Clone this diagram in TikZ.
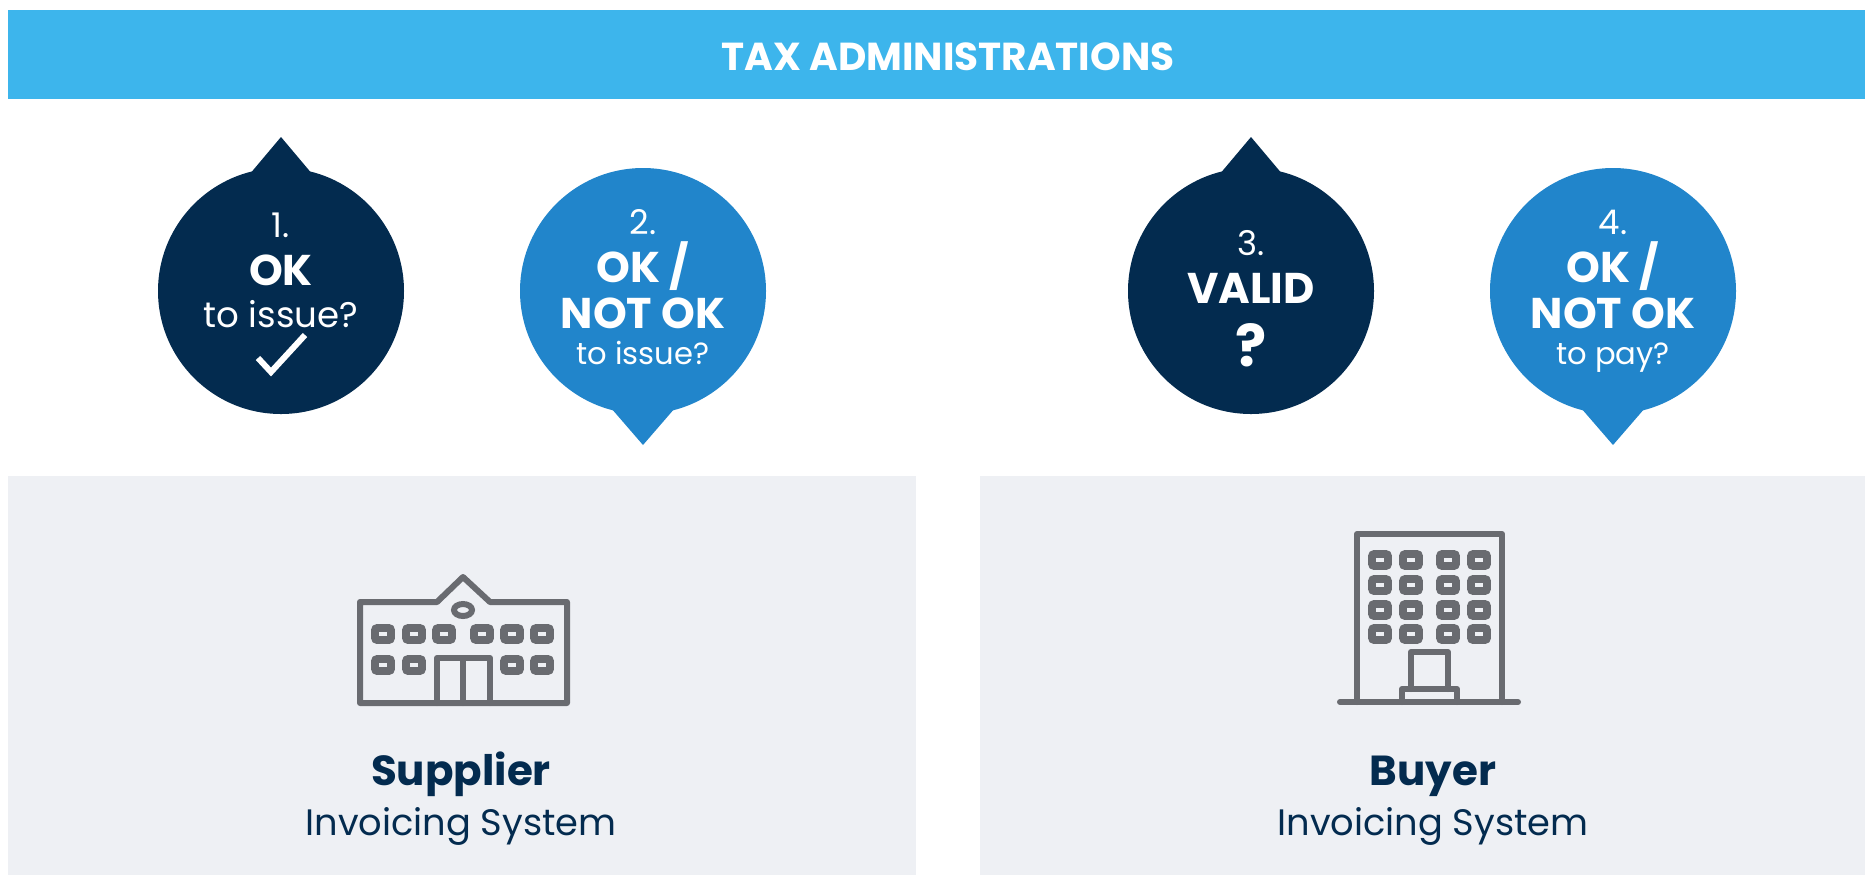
\documentclass[tikz,border=0pt]{standalone}
\usepackage{fontspec}
\setmainfont{Poppins}
\definecolor{banner}{HTML}{3DB5EC}
\definecolor{navy}{HTML}{032B4F}
\definecolor{midblue}{HTML}{2185CB}
\definecolor{panel}{HTML}{EEF0F4}
\definecolor{icon}{HTML}{696B70}
\begin{document}
\begin{tikzpicture}[x=0.5pt,y=-0.5pt,
    numtxt/.style={text=white,anchor=base,inner sep=0pt,font=\fontsize{17}{20}\selectfont},
    bigtxt/.style={text=white,anchor=base,inner sep=0pt,font=\fontsize{21.5}{26}\selectfont\bfseries},
    midtxt/.style={text=white,anchor=base,inner sep=0pt,font=\fontsize{17.8}{22}\selectfont},
    lowtxt/.style={text=white,anchor=base,inner sep=0pt,font=\fontsize{15.3}{19}\selectfont},
    nametxt/.style={text=navy,anchor=base,inner sep=0pt,font=\fontsize{21}{26}\selectfont\bfseries},
    systxt/.style={text=navy,anchor=base,inner sep=0pt,font=\fontsize{18.4}{22}\selectfont},
    iconline/.style={draw=icon,line width=3pt,line join=round,line cap=round},
    iconwin/.style={draw=icon,line width=3.8pt,rounded corners=1pt}]
    \useasboundingbox (0,0) rectangle (1865,875);
    % banner
    \fill[banner] (8,10) rectangle (1865,99);
    \node[inner sep=0pt,text=white,anchor=base] (tax) at (948,70) {\fontsize{19.5}{24}\selectfont\bfseries TAX ADMINISTRATIONS};
    % panels
    \fill[panel] (8,476) rectangle (916,875);
    \fill[panel] (980,476) rectangle (1865,875);
    % bubbles
    \coordinate (A) at (281,291);
    \coordinate (B) at (643,291);
    \coordinate (C) at (1251,291);
    \coordinate (D) at (1613,291);
    \fill[navy] (A) circle (123);
    \fill[navy] (249,175) -- (281,137) -- (313,175) -- cycle;
    \fill[midblue] (B) circle (123);
    \fill[midblue] (611,408) -- (643,445) -- (675,408) -- cycle;
    \fill[navy] (C) circle (123);
    \fill[navy] (1219,175) -- (1251,137) -- (1283,175) -- cycle;
    \fill[midblue] (D) circle (123);
    \fill[midblue] (1581,408) -- (1613,445) -- (1645,408) -- cycle;
    % bubble texts
    \node[numtxt] (oneNum) at (281,237) {1.};
    \node[bigtxt] (oneOk) at (281,285) {OK};
    \node[midtxt] (oneAsk) at (281,327) {to issue?};
    \node[numtxt] (twoNum) at (643,234) {2.};
    \node[bigtxt] (twoOk) at (643,282) {OK /};
    \node[bigtxt] (twoNot) at (643,328) {NOT OK};
    \node[lowtxt] (twoAsk) at (643,364) {to issue?};
    \node[numtxt] (threeNum) at (1251,255) {3.};
    \node[bigtxt] (threeValid) at (1251,303) {VALID};
    \node[bigtxt,font=\fontsize{29}{34}\selectfont\bfseries] (threeAsk) at (1251,366) {?};
    \node[numtxt] (fourNum) at (1613,234) {4.};
    \node[bigtxt] (fourOk) at (1613,282) {OK /};
    \node[bigtxt] (fourNot) at (1613,328) {NOT OK};
    \node[lowtxt] (fourAsk) at (1613,364) {to pay?};
    \draw[white,line width=3pt] (258,358) -- (271,372) -- (305,335);
    % supplier icon
    \draw[iconline] (360,602) -- (437,602) -- (463,577) -- (490,602) -- (567,602) -- (567,703) -- (360,703) -- cycle;
    \draw[icon,line width=3pt] (463,610) ellipse (9 and 6);
    \foreach \x in {383,414,444,482,512,542}
        \draw[iconwin] (\x-8,628) rectangle (\x+8,640);
    \foreach \x in {383,414,512,542}
        \draw[iconwin] (\x-8,659) rectangle (\x+8,671);
    \draw[iconline] (437,703) -- (437,658) -- (490,658) -- (490,703) (463,658) -- (463,703);
    % buyer icon
    \draw[iconline] (1357,702) -- (1357,534) -- (1502,534) -- (1502,702);
    \draw[iconline] (1340,702) -- (1518,702);
    \foreach \x in {1380,1411,1448,1479}
        \foreach \y in {560,585,610,634}
            \draw[iconwin] (\x-8,\y-6) rectangle (\x+8,\y+6);
    \draw[iconline] (1411,689) -- (1411,652) -- (1448,652) -- (1448,689);
    \draw[iconline] (1402,702) -- (1402,689) -- (1457,689) -- (1457,702);
    % panel texts
    \node[nametxt] (supplier) at (461,785) {Supplier};
    \node[systxt] (supplierSys) at (461,835) {Invoicing System};
    \node[nametxt] (buyer) at (1433,785) {Buyer};
    \node[systxt] (buyerSys) at (1433,835) {Invoicing System};
\end{tikzpicture}
\end{document}
